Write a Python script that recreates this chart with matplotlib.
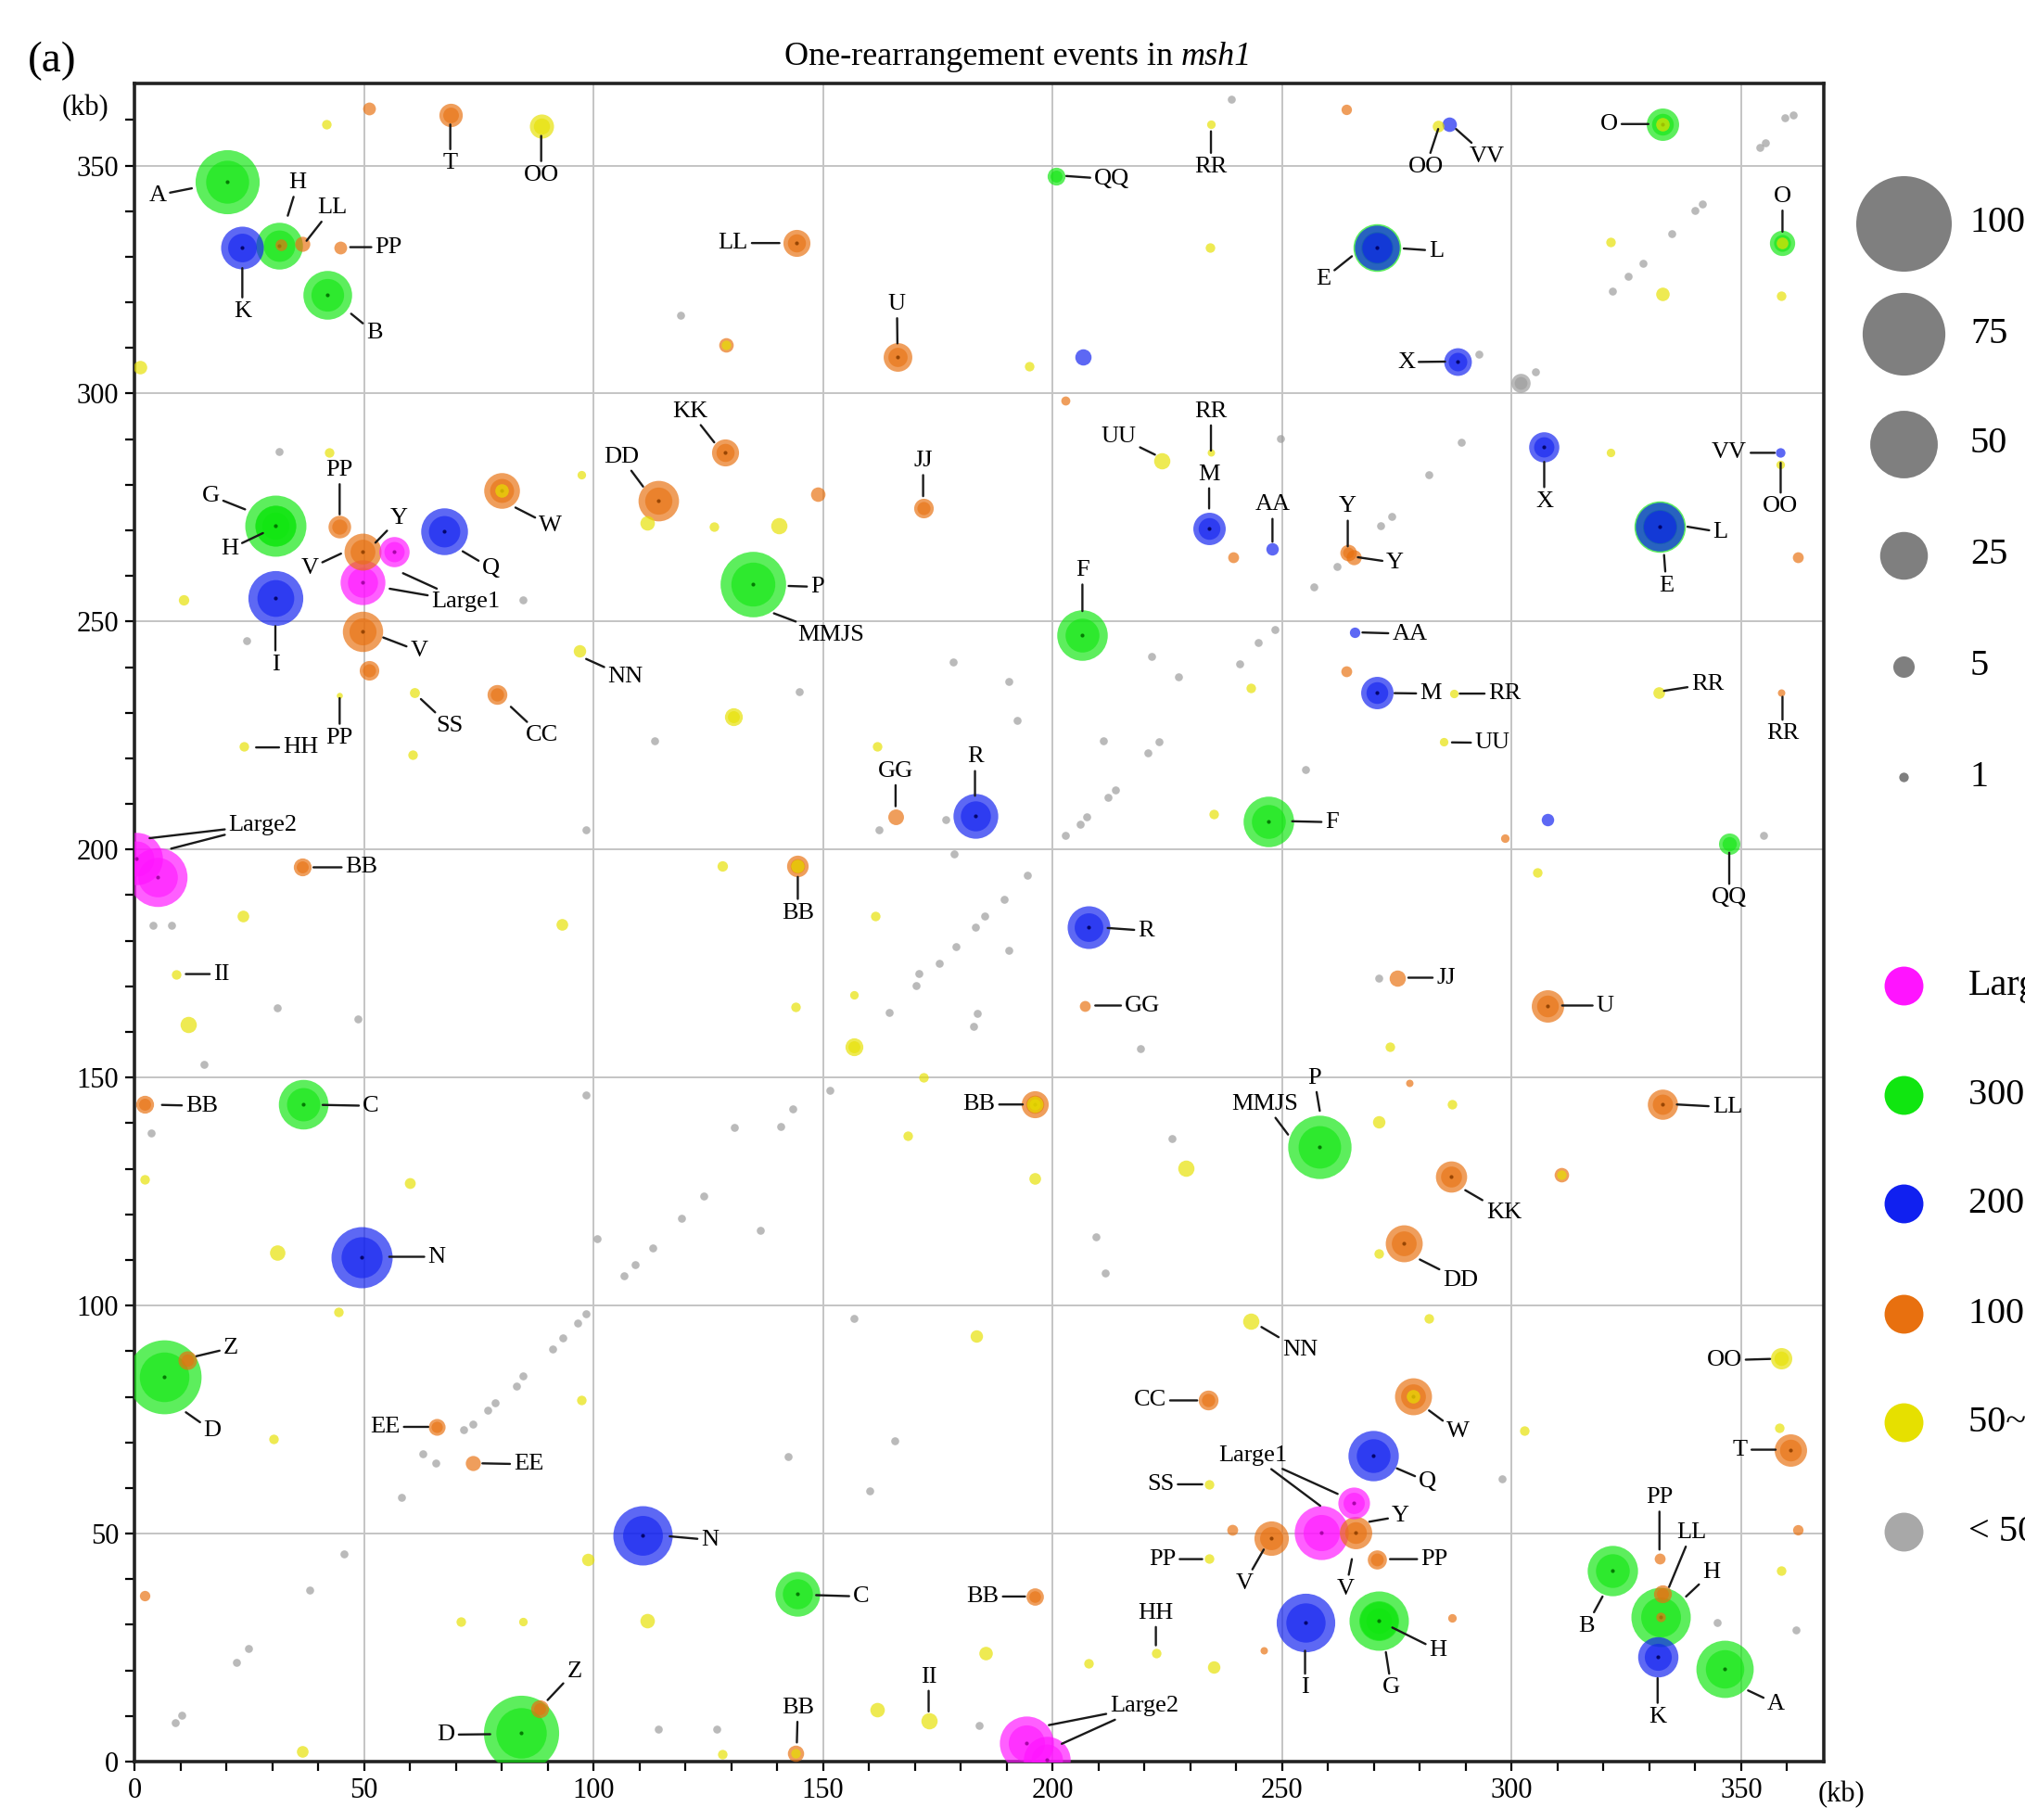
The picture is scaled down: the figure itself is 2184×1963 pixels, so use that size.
import matplotlib
matplotlib.use('Agg')
import matplotlib.pyplot as plt
from matplotlib.ticker import MultipleLocator

plt.rcParams['font.family'] = ['Liberation Serif', 'DejaVu Serif']

# ---------------- data (kb, kb, count) ----------------
green_pts = [
    (20.1, 346.4, 45), (31.6, 332.5, 24), (42.1, 321.7, 26), (30.6, 271.0, 41), (30.6, 271.0, 18),
    (134.7, 258.2, 47), (206.5, 247.1, 28), (200.8, 347.7, 3.5), (332.9, 359.1, 11.5), (359.0, 333.0, 7),
    (347.4, 201.3, 5), (247.1, 206.2, 28), (36.8, 144.1, 27), (6.5, 84.3, 60), (84.3, 6.3, 62),
    (144.5, 36.8, 22), (258.2, 134.7, 44), (271.1, 30.9, 38.6), (271.1, 30.9, 16), (322.0, 41.8, 27.8),
    (332.5, 31.7, 38.6), (346.3, 20.3, 36), (270.7, 332.1, 25), (332.2, 270.9, 29),
]
blue_pts = [
    (23.5, 332.1, 20), (30.7, 255.1, 33), (67.4, 269.9, 24), (206.6, 308.0, 2.9), (234.1, 270.5, 11.5),
    (247.9, 265.9, 1.7), (183.1, 207.4, 22), (270.7, 332.1, 22), (288.3, 307.1, 8.4), (286.4, 359.1, 2.3),
    (307.1, 288.4, 10), (332.2, 270.9, 26), (358.6, 287.0, 1.0), (265.8, 247.7, 1.2), (270.7, 234.4, 11.5),
    (307.9, 206.6, 1.7), (49.4, 110.7, 41), (110.7, 49.6, 38.6), (207.8, 183.0, 20), (269.9, 67.0, 27.8),
    (255.0, 30.5, 37.6), (331.8, 23.0, 17.8),
]
orange_pts = [
    (51.0, 362.5, 1.8), (68.8, 361.1, 6), (36.6, 332.9, 2.5), (31.9, 332.7, 1.5), (44.8, 332.1, 1.8),
    (144.2, 333.0, 8), (128.8, 310.6, 2.3), (166.2, 308.1, 9), (128.6, 287.0, 8), (148.8, 277.9, 2.3),
    (171.8, 274.9, 4.2), (202.8, 298.5, 0.9), (239.3, 264.1, 1.3), (114.1, 276.6, 18), (80.0, 278.7, 14),
    (44.7, 270.8, 5.6), (49.7, 265.3, 15), (49.7, 247.8, 17.8), (51.0, 239.3, 4.2), (79.0, 234.0, 4.3),
    (36.6, 196.1, 3.5), (144.5, 196.4, 5.1), (165.8, 207.2, 2.7), (264.3, 265.2, 3), (265.6, 264.1, 2.5),
    (264.0, 239.1, 1.3), (264.0, 362.4, 1.2), (362.3, 264.1, 1.3), (358.8, 234.4, 0.6), (298.5, 202.5, 0.8),
    (2.2, 144.1, 3.5), (11.5, 88.0, 3.8), (65.8, 73.4, 3.1), (73.8, 65.5, 2.5), (2.2, 36.4, 1.2),
    (88.3, 11.5, 3.5), (144.1, 1.9, 2.9), (196.1, 144.1, 8), (207.1, 165.8, 1.3), (196.1, 36.2, 3.3),
    (233.9, 79.2, 4.3), (239.2, 50.8, 1.3), (275.0, 171.9, 2.9), (307.9, 165.8, 11.5), (277.8, 148.8, 0.6),
    (332.9, 144.1, 10), (286.8, 128.3, 10.7), (310.9, 128.6, 2.3), (276.6, 113.6, 15), (278.5, 80.1, 15),
    (360.7, 68.4, 11.5), (362.3, 50.8, 1.2), (266.0, 50.2, 11.5), (247.6, 49.1, 13), (270.7, 44.4, 4),
    (332.9, 36.7, 3.5), (332.2, 44.6, 1.3), (287.0, 31.5, 0.8), (246.0, 24.4, 0.6), (332.5, 31.7, 1.0),
]
yellow_pts = [
    (41.8, 359.1, 1), (1.3, 305.8, 2), (88.6, 358.7, 6.4), (42.5, 287.0, 1), (97.3, 282.3, 0.8),
    (111.6, 271.6, 2.3), (126.2, 270.8, 1), (140.4, 271.1, 2.9), (10.8, 254.7, 1.2), (61.0, 234.5, 1.1),
    (97.0, 243.6, 1.7), (23.8, 222.6, 1.0), (60.5, 220.7, 1), (130.4, 229.2, 3.5), (161.7, 222.7, 1),
    (128.0, 196.4, 1.2), (23.7, 185.5, 1.5), (93.2, 183.5, 1.5), (9.0, 172.7, 1), (11.8, 161.7, 2.9),
    (156.7, 156.7, 3.5), (144.1, 165.5, 1), (156.7, 168.1, 0.8), (171.8, 150.0, 1), (168.5, 137.3, 1),
    (196.1, 127.9, 1.5), (229.0, 130.2, 2.9), (2.2, 127.6, 1), (59.9, 126.8, 1.3), (31.1, 111.6, 2.6),
    (44.4, 98.6, 1), (30.2, 70.8, 1), (97.3, 79.3, 1), (98.8, 44.4, 1.7), (111.7, 30.9, 2.3),
    (71.1, 30.7, 1), (84.7, 30.7, 0.8), (36.6, 2.2, 1.5), (128.0, 1.6, 1), (161.4, 185.4, 1),
    (183.3, 93.4, 1.7), (185.4, 23.8, 2), (207.9, 21.5, 1), (235.2, 20.7, 1.7), (161.7, 11.3, 2.3),
    (173.0, 8.9, 2.9), (222.5, 23.8, 1), (234.1, 60.8, 1), (234.1, 44.6, 1), (243.1, 96.6, 2.9),
    (234.5, 359.0, 0.8), (234.3, 332.1, 1), (194.9, 305.9, 1), (223.7, 285.2, 2.9), (234.5, 287.0, 0.6),
    (235.2, 207.8, 1), (243.1, 235.4, 1), (321.6, 333.3, 1), (332.9, 321.8, 2), (358.8, 321.5, 1),
    (321.6, 287.0, 0.8), (305.5, 194.9, 1), (332.0, 234.4, 1.5), (285.2, 223.6, 0.8), (287.5, 234.2, 0.8),
    (273.4, 156.7, 1), (271.1, 140.2, 1.7), (287.0, 144.1, 1), (271.1, 111.5, 1), (282.0, 97.2, 1),
    (302.8, 72.6, 1), (358.4, 73.1, 1), (358.8, 41.8, 1), (358.8, 88.4, 5), (284.0, 358.7, 1.5),
    (358.6, 284.5, 0.8), (332.9, 359.1, 2), (359.0, 333.0, 1.5), (80.0, 278.7, 2), (278.5, 80.1, 2),
    (144.5, 196.4, 2), (196.1, 144.1, 3), (128.8, 310.6, 1), (310.9, 128.6, 1), (144.1, 1.9, 1),
    (44.7, 233.8, 0.4),
]
gray_pts = [
    (119.2, 119.1, 0.7), (112.9, 112.7, 0.7), (109.0, 108.9, 0.7), (106.6, 106.5, 0.7), (98.4, 98.3, 0.7),
    (96.5, 96.2, 0.7), (93.3, 93.0, 0.7), (91.0, 90.5, 0.7), (84.7, 84.5, 0.7), (83.2, 82.4, 0.7),
    (78.5, 78.7, 0.7), (76.9, 77.0, 0.7), (73.8, 74.0, 0.7), (71.8, 72.8, 0.7), (65.6, 65.5, 0.7),
    (58.1, 57.9, 0.7), (45.6, 45.5, 0.7), (38.1, 37.7, 0.7), (24.8, 24.8, 0.7), (22.3, 21.8, 0.7),
    (10.4, 10.2, 0.7), (8.8, 8.6, 0.7), (100.8, 114.7, 0.7), (62.8, 67.5, 0.7), (114.1, 7.2, 0.7),
    (31.1, 165.2, 0.7), (48.7, 162.8, 0.7), (15.1, 152.9, 0.7), (3.7, 137.8, 0.7), (98.4, 146.2, 0.7),
    (4.1, 183.3, 0.7), (8.0, 183.3, 0.7), (178.9, 178.7, 0.7), (175.4, 175.1, 0.7), (170.8, 172.8, 0.7),
    (170.3, 170.1, 0.7), (164.4, 164.2, 0.7), (183.2, 183.0, 0.7), (190.4, 177.8, 0.7), (183.6, 164.0, 0.7),
    (182.8, 161.3, 0.7), (219.1, 156.3, 0.7), (151.5, 147.2, 0.7), (143.4, 143.1, 0.7), (140.8, 139.3, 0.7),
    (130.6, 139.0, 0.7), (124.1, 124.1, 0.7), (136.4, 116.5, 0.7), (226.1, 136.7, 0.7), (209.4, 115.1, 0.7),
    (211.5, 107.1, 0.7), (156.7, 97.2, 0.7), (165.6, 70.4, 0.7), (142.3, 66.9, 0.7), (160.1, 59.3, 0.7),
    (184.0, 8.0, 0.7), (126.8, 7.1, 0.7), (239.0, 364.6, 0.7), (178.3, 241.2, 0.7), (190.4, 236.9, 0.7),
    (192.2, 228.3, 0.7), (144.9, 234.6, 0.7), (221.6, 242.4, 0.7), (227.4, 237.9, 0.7), (240.7, 240.7, 0.7),
    (211.0, 223.9, 0.7), (220.8, 221.3, 0.7), (223.1, 223.6, 0.7), (213.7, 213.1, 0.7), (212.0, 211.5, 0.7),
    (207.5, 207.2, 0.7), (206.0, 205.5, 0.7), (202.8, 203.1, 0.7), (194.5, 194.3, 0.7), (189.5, 189.0, 0.7),
    (185.2, 185.4, 0.7), (178.6, 199.0, 0.7), (162.1, 204.3, 0.7), (176.8, 206.6, 0.7), (244.7, 245.3, 0.7),
    (359.5, 360.5, 0.7), (361.4, 361.1, 0.7), (355.2, 355.0, 0.7), (354.0, 353.9, 0.7), (341.5, 341.5, 0.7),
    (340.0, 340.2, 0.7), (334.9, 335.0, 0.7), (328.6, 328.6, 0.7), (325.4, 325.7, 0.7), (322.0, 322.4, 0.7),
    (305.1, 304.8, 0.7), (292.8, 308.7, 0.7), (289.1, 289.3, 0.7), (282.0, 282.3, 0.7), (273.8, 273.1, 0.7),
    (271.5, 271.1, 0.7), (249.6, 290.2, 0.7), (248.4, 248.3, 0.7), (255.0, 217.5, 0.7), (354.9, 203.1, 0.7),
    (297.9, 62.0, 0.7), (344.7, 30.5, 0.7), (361.9, 28.9, 0.7), (271.1, 171.9, 0.7), (31.5, 287.2, 0.7),
    (84.7, 254.7, 0.7), (24.5, 245.9, 0.7), (113.3, 223.9, 0.7), (98.4, 204.3, 0.7), (119.0, 317.2, 0.7),
    (302.0, 302.4, 4), (257.0, 257.5, 0.7), (262.0, 262.0, 0.7),
]
magenta_pts = [
    (49.7, 258.6, 22), (56.6, 265.3, 10), (0.5, 198.0, 30), (5.0, 194.0, 38),
    (194.4, 4.0, 32), (198.7, 0.5, 24), (258.6, 50.2, 32), (265.6, 56.7, 11),
]

# labels: (text, text_x, text_y, line_end_x, line_end_y)
labels = [
    ("A", 5.0, 343.5, 12.5, 345.0), ("H", 35.6, 346.2, 33.4, 339.0), ("LL", 43.1, 340.7, 37.5, 333.5),
    ("PP", 55.4, 332.1, 47.0, 332.1), ("K", 23.5, 318.0, 23.5, 327.5), ("B", 52.3, 313.3, 47.2, 317.5),
    ("T", 68.8, 350.5, 68.8, 359.0), ("OO", 88.6, 347.9, 88.6, 356.5), ("QQ", 212.9, 347.0, 203.0, 347.7),
    ("RR", 234.5, 349.7, 234.5, 357.5), ("LL", 130.4, 333.0, 140.5, 333.0), ("U", 166.1, 319.6, 166.2, 311.0),
    ("KK", 121.0, 296.1, 126.3, 289.3), ("DD", 106.0, 286.1, 110.8, 279.6), ("JJ", 171.8, 285.2, 171.8, 277.5),
    ("UU", 214.4, 290.5, 222.3, 286.6), ("RR", 234.5, 296.1, 234.5, 287.5), ("M", 234.1, 282.3, 234.1, 274.8),
    ("AA", 247.9, 275.6, 247.9, 267.5), ("F", 206.5, 261.2, 206.5, 252.3), ("P", 148.8, 257.6, 142.5, 257.8),
    ("MMJS", 151.7, 247.1, 139.3, 251.8), ("GG", 165.8, 217.2, 165.8, 209.5), ("R", 183.1, 220.3, 183.1, 211.8),
    ("BB", 144.5, 186.1, 144.5, 194.0), ("G", 16.6, 277.6, 24.1, 274.6), ("H", 20.7, 265.9, 28.0, 269.4),
    ("PP", 44.7, 283.2, 44.7, 273.5), ("Y", 57.7, 272.7, 52.5, 267.3), ("V", 38.2, 261.7, 45.0, 264.9),
    ("Large1", 72.2, 254.3, 58.5, 260.6), ("Large1", 72.2, 254.3, 55.6, 257.2), ("Q", 77.7, 261.7, 71.5, 265.4),
    ("W", 90.6, 271.1, 83.0, 275.0), ("I", 30.7, 240.6, 30.7, 249.0), ("V", 62.0, 243.5, 54.2, 246.5),
    ("NN", 107.0, 237.9, 98.4, 241.8), ("SS", 68.7, 227.1, 62.4, 233.0), ("CC", 88.7, 225.0, 82.0, 231.3),
    ("HH", 36.2, 222.4, 26.5, 222.4), ("PP", 44.7, 224.5, 44.7, 233.2), ("Large2", 28.0, 205.4, 3.3, 202.5),
    ("Large2", 28.0, 205.4, 8.0, 200.2), ("BB", 49.5, 196.1, 39.0, 196.1), ("II", 19.0, 172.7, 11.2, 172.7),
    ("BB", 14.7, 143.8, 6.0, 144.0), ("C", 51.5, 143.8, 41.0, 144.0), ("N", 65.9, 110.7, 55.5, 110.7),
    ("Z", 21.0, 90.7, 13.5, 88.9), ("D", 17.0, 72.5, 11.2, 76.6), ("EE", 54.6, 73.4, 64.0, 73.4),
    ("EE", 85.9, 65.2, 75.8, 65.4), ("N", 125.4, 48.6, 116.6, 49.4), ("Z", 95.8, 19.7, 90.0, 13.5),
    ("D", 67.9, 5.9, 77.5, 6.0), ("BB", 184.0, 144.1, 193.5, 144.1), ("R", 220.4, 182.2, 212.0, 182.8),
    ("GG", 219.6, 165.8, 209.3, 165.8), ("CC", 221.2, 79.2, 231.5, 79.2), ("SS", 223.5, 60.8, 232.6, 60.8),
    ("PP", 223.9, 44.4, 232.6, 44.4), ("BB", 184.8, 36.2, 194.0, 36.2), ("HH", 222.5, 32.6, 222.5, 25.5),
    ("II", 173.0, 18.6, 173.0, 11.0), ("BB", 144.5, 11.8, 144.3, 4.2), ("C", 158.3, 36.2, 148.5, 36.5),
    ("Large2", 220.0, 12.1, 199.2, 8.0), ("Large2", 220.0, 12.1, 202.0, 3.9), ("MMJS", 246.3, 144.2, 251.3, 137.5),
    ("P", 257.0, 149.9, 258.2, 142.7), ("JJ", 285.7, 171.9, 277.5, 171.9), ("U", 320.4, 165.8, 311.0, 165.8),
    ("LL", 347.0, 143.5, 336.0, 144.1), ("KK", 298.3, 120.4, 289.9, 125.3), ("DD", 288.9, 105.6, 280.0, 110.1),
    ("NN", 253.9, 90.3, 245.5, 95.3), ("W", 288.3, 72.3, 282.0, 77.0), ("Q", 281.7, 61.4, 275.0, 64.3),
    ("Large1", 243.7, 67.1, 262.1, 58.7), ("Large1", 243.7, 67.1, 258.3, 56.1), ("Y", 275.8, 53.8, 269.0, 52.6),
    ("V", 263.9, 37.9, 265.2, 44.4), ("V", 241.8, 39.1, 246.0, 46.5), ("PP", 283.2, 44.4, 273.5, 44.4),
    ("I", 255.0, 16.2, 255.0, 24.3), ("G", 273.8, 16.2, 272.6, 24.0), ("H", 284.0, 24.4, 274.0, 29.4),
    ("B", 316.3, 29.7, 319.8, 36.2), ("PP", 332.2, 57.9, 332.2, 46.5), ("LL", 339.2, 50.2, 334.3, 38.3),
    ("H", 343.5, 41.4, 338.0, 36.2), ("K", 331.8, 9.8, 331.8, 18.3), ("A", 357.6, 12.7, 351.5, 15.6),
    ("OO", 346.3, 88.0, 356.3, 88.3), ("T", 349.8, 68.4, 357.5, 68.4), ("O", 321.2, 359.1, 329.8, 359.1),
    ("OO", 281.3, 349.7, 284.0, 358.0), ("VV", 294.6, 352.0, 287.9, 358.0), ("E", 259.0, 325.1, 265.2, 330.1),
    ("L", 283.6, 331.3, 276.5, 331.8), ("X", 277.0, 306.9, 285.5, 307.0), ("O", 359.0, 343.2, 359.0, 335.5),
    ("X", 307.1, 276.4, 307.1, 285.0), ("VV", 347.4, 287.0, 357.3, 287.0), ("OO", 358.6, 275.2, 358.6, 284.8),
    ("L", 345.5, 269.6, 338.3, 270.8), ("E", 333.7, 257.9, 333.2, 264.6), ("Y", 264.3, 275.2, 264.3, 266.5),
    ("Y", 274.6, 262.9, 266.5, 264.1), ("AA", 277.8, 247.3, 267.5, 247.6), ("M", 282.4, 234.2, 274.5, 234.3),
    ("RR", 298.5, 234.2, 288.7, 234.2), ("UU", 295.8, 223.4, 287.0, 223.5), ("F", 260.9, 206.0, 252.2, 206.2),
    ("RR", 342.7, 236.3, 333.2, 234.8), ("RR", 359.0, 225.4, 359.0, 233.5), ("QQ", 347.4, 189.4, 347.4, 199.3),
]

size_legend_values = [100, 75, 50, 25, 5, 1]
color_legend_labels = ["Large", "300-400 bp", "200-300 bp", "100-200 bp", "50~100 bp", "< 50 bp"]
title_plain = "One-rearrangement events in "
title_italic = "msh1"
axis_ticks = list(range(0, 351, 50))

# ---------------- style ----------------
colors = {
    'magenta': ('#FF14FF', '#A000A0'),
    'green': ('#10E610', '#007000'),
    'blue': ('#1020F0', '#000060'),
    'orange': ('#E8700F', '#904000'),
    'yellow': ('#E6E000', '#A09000'),
    'gray': ('#9A9A9A', '#707070'),
}
SCALE = 55.0  # marker area (pt^2) per count unit

W, H = 2184, 1963
fig = plt.figure(figsize=(W / 100, H / 100), dpi=100)
ax = fig.add_axes([145 / W, 1 - 1900 / H, (1967 - 145) / W, (1900 - 90) / H])
ax.set_xlim(0, 368)
ax.set_ylim(0, 368)
ax.set_xticks(axis_ticks)
ax.set_yticks(axis_ticks)
ax.xaxis.set_minor_locator(MultipleLocator(10))
ax.yaxis.set_minor_locator(MultipleLocator(10))
ax.tick_params(which='both', direction='out', length=7, width=1.6, labelsize=22, pad=5)
ax.grid(True, which='major', color='#c4c4c4', lw=1.4, zorder=0)
ax.set_axisbelow(True)
for sp in ax.spines.values():
    sp.set_linewidth(2.6)
    sp.set_color('#222222')

allpts = []
for cat, pts in [('gray', gray_pts), ('yellow', yellow_pts), ('orange', orange_pts),
                 ('blue', blue_pts), ('green', green_pts), ('magenta', magenta_pts)]:
    for (x, y, n) in pts:
        allpts.append((n, x, y, cat))
allpts.sort(key=lambda t: -t[0])

for n, x, y, cat in allpts:
    c, dark = colors[cat]
    s = SCALE * n
    ax.scatter([x], [y], s=s, color=c, alpha=0.68, lw=0, zorder=3)
    if n >= 3:
        ax.scatter([x], [y], s=s * 0.45, color=c, alpha=0.6, lw=0, zorder=3)
    if n >= 8:
        ax.scatter([x], [y], s=9, color=dark, alpha=0.9, lw=0, zorder=3)

drawn = set()
for (t, tx, ty, lx, ly) in labels:
    key = (t, tx, ty)
    tcol = 'black' if key not in drawn else (0, 0, 0, 0)
    drawn.add(key)
    ax.annotate(t, xy=(lx, ly), xytext=(tx, ty), textcoords='data',
                ha='center', va='center', fontsize=19, color=tcol, zorder=5,
                arrowprops=dict(arrowstyle='-', lw=1.7, color='#1a1a1a',
                                shrinkA=1, shrinkB=0))

# title: plain part + italic gene name, centred as a whole
renderer = fig.canvas.get_renderer()
t1 = fig.text(0, 1 - 62 / H, title_plain, ha='left', va='center', fontsize=26)
t2 = fig.text(0, 1 - 62 / H, title_italic, ha='left', va='center', fontsize=26, style='italic')
w1 = t1.get_window_extent(renderer).width
w2 = t2.get_window_extent(renderer).width
x0 = 1098 - (w1 + w2) / 2
t1.set_x(x0 / W)
t2.set_x((x0 + w1) / W)

fig.text(56 / W, 1 - 66 / H, '(a)', ha='center', va='center', fontsize=34)
fig.text(92 / W, 1 - 117 / H, '(kb)', ha='center', va='center', fontsize=22)
fig.text(1986 / W, 1 - 1936 / H, '(kb)', ha='center', va='center', fontsize=22)

# legends (figure pixel coordinates); the labels run past the right edge as in the source
leg = fig.add_axes([0, 0, 1, 1])
leg.set_xlim(0, W)
leg.set_ylim(H, 0)
leg.axis('off')
size_y = [241, 360, 479, 599, 719, 838]
for v, yy in zip(size_legend_values, size_y):
    leg.scatter([2053], [yy], s=SCALE * v, color='#7f7f7f', lw=0, clip_on=False)
    leg.text(2125, yy, str(v), fontsize=29, ha='left', va='center', clip_on=False)
color_y = [1063, 1181, 1298, 1417, 1534, 1652]
for cat, lab, yy in zip(['magenta', 'green', 'blue', 'orange', 'yellow', 'gray'],
                        color_legend_labels, color_y):
    c = {'gray': '#A8A8A8'}.get(cat, colors[cat][0])
    leg.scatter([2053], [yy], s=910, color=c, lw=0, clip_on=False)
    leg.text(2123, yy, lab, fontsize=29, ha='left', va='center', clip_on=False)

fig.savefig('out.png', dpi=100)
